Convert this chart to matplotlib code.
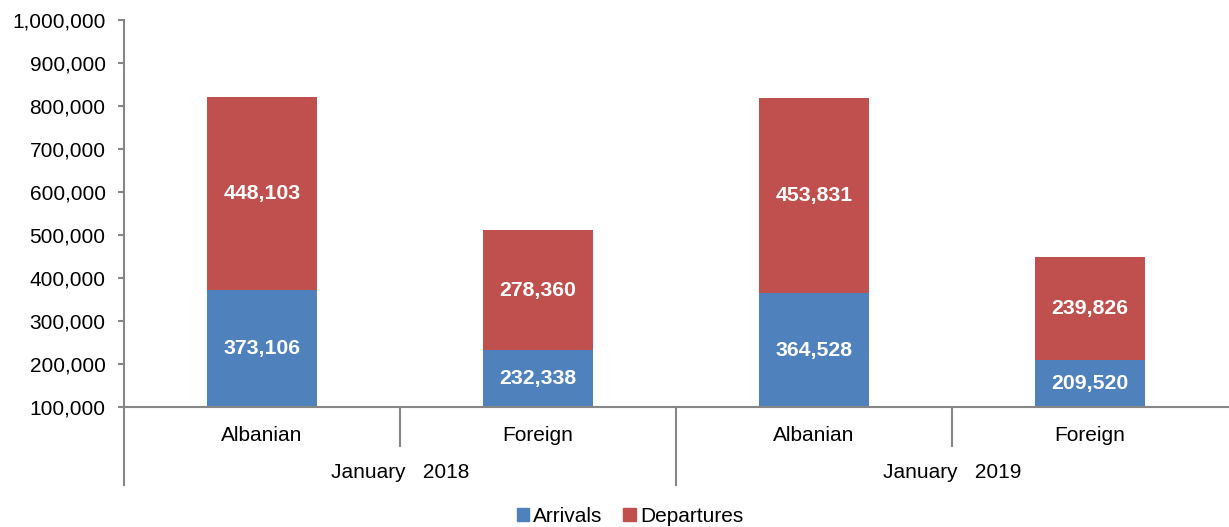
import matplotlib
matplotlib.use("Agg")
import matplotlib.pyplot as plt
from matplotlib.patches import Patch

plt.rcParams["font.family"] = ["Liberation Sans", "DejaVu Sans"]

categories = ["Albanian", "Foreign", "Albanian", "Foreign"]
groups = ["January   2018", "January   2019"]
arrivals = [373106, 232338, 364528, 209520]
departures = [448103, 278360, 453831, 239826]
yticks = list(range(100000, 1000001, 100000))

BLUE, RED, GREY = "#4F81BD", "#C0504D", "#868686"
YMIN, YMAX = 100000, 1000000

fig = plt.figure(figsize=(12.29, 5.27), dpi=100)
ax = fig.add_axes([124 / 1229, 1 - 407 / 527, 1104 / 1229, 387 / 527])

x = list(range(len(categories)))
ax.bar(x, arrivals, width=0.4, color=BLUE, label="Arrivals")
ax.bar(x, departures, width=0.4, bottom=arrivals, color=RED, label="Departures")

# labels centred in the visible part of each segment
for xi, a, d in zip(x, arrivals, departures):
    for lo, hi, v in ((0, a, a), (a, a + d, d)):
        yc = (max(lo, YMIN) + hi) / 2
        ax.text(xi, yc, f"{v:,}", ha="center", va="center", color="white",
                fontsize=15.3, fontweight="bold")

ax.set_xlim(-0.5, 3.5)
ax.set_ylim(YMIN, YMAX)
ax.set_yticks(yticks)
ax.set_yticklabels([f"{t:,}" for t in yticks], fontsize=15)
ax.set_xticks(x)
ax.set_xticklabels(categories, fontsize=15)
ax.tick_params(axis="x", length=0, pad=14)
ax.tick_params(axis="y", length=4.3, width=1.5, color=GREY, pad=9)

for s in ("top", "right"):
    ax.spines[s].set_visible(False)
for s in ("left", "bottom"):
    ax.spines[s].set_color(GREY)
    ax.spines[s].set_linewidth(1.5)

# multi-level category separators
tr = ax.get_xaxis_transform()
for xd, ylow in ((-0.5, -0.2016), (0.5, -0.1008), (1.5, -0.2016), (2.5, -0.1008)):
    ax.plot([xd, xd], [0, ylow], color=GREY, lw=1.5, transform=tr, clip_on=False)
for xc, g in zip((0.5, 2.5), groups):
    ax.text(xc, -0.168, g, transform=tr, ha="center", va="center", fontsize=15)

handles = [Patch(color=BLUE, label="Arrivals"), Patch(color=RED, label="Departures")]
fig.legend(handles=handles, loc="center", bbox_to_anchor=(630 / 1229, 1 - 516 / 527),
           ncol=2, frameon=False, fontsize=15, handlelength=0.6, handleheight=0.6,
           handletextpad=0.2, columnspacing=1.0, borderaxespad=0)

fig.savefig("out.png", dpi=100)
